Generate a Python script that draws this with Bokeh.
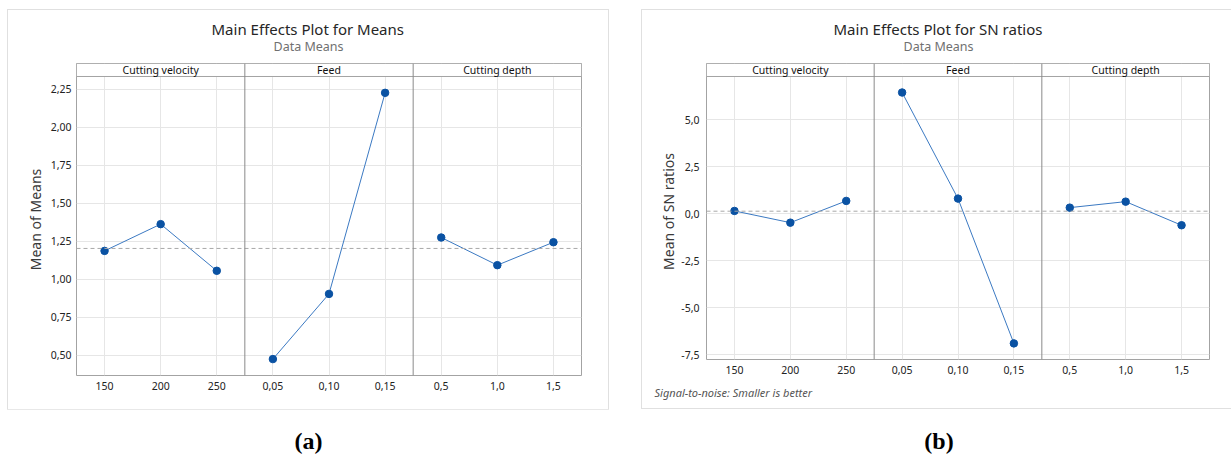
from bokeh.plotting import figure
from bokeh.models import (Range1d, FixedTicker, CustomJSTickFormatter, Span, Title,
                          ColumnDataSource, Spacer)
from bokeh.layouts import row, column
from bokeh.embed import file_html
from bokeh.resources import INLINE
from bokeh.core.properties import value

# ---------------- data ----------------
FACTORS = ["Cutting velocity", "Feed", "Cutting depth"]
VELOCITY_LEVELS = ["150", "200", "250"]
FEED_LEVELS = ["0,05", "0,10", "0,15"]
DEPTH_LEVELS = ["0,5", "1,0", "1,5"]

MEANS_VELOCITY = [1.188, 1.364, 1.057]
MEANS_FEED = [0.476, 0.905, 2.228]
MEANS_DEPTH = [1.276, 1.094, 1.245]
MEANS_GRAND = 1.204
MEANS_YTICKS = [0.50, 0.75, 1.00, 1.25, 1.50, 1.75, 2.00, 2.25]

SN_VELOCITY = [0.144, -0.479, 0.676]
SN_FEED = [6.436, 0.798, -6.894]
SN_DEPTH = [0.319, 0.638, -0.617]
SN_GRAND = 0.13
SN_YTICKS = [-7.5, -5.0, -2.5, 0.0, 2.5, 5.0]

FONT = "Noto Sans"
LINE_C = "#3b79c2"
MARK_C = "#0a52a3"
GRID_C = "#e6e6e6"
FRAME_C = "#a3a3a3"
DIV_C = "#8a8a8a"
BOX_STYLE = {"outline": "1px solid #e0e0e0", "outline-offset": "0px"}


def make_chart(title, ylabel, series, grand, yticks, ydigits, ymin, ymax_data, hdr_h,
               width, height, mb, title_off, sub_off, footnote=None, foot_offset=0,
               ystandoff=5, lstandoff=3):
    levels = [VELOCITY_LEVELS, FEED_LEVELS, DEPTH_LEVELS]
    ymax = ymax_data + hdr_h
    p = figure(width=width, height=height, output_backend="svg", toolbar_location=None,
               title=None, x_range=Range1d(0, 9), y_range=Range1d(ymin, ymax),
               min_border_left=mb[0], min_border_right=mb[1],
               min_border_top=mb[2], min_border_bottom=mb[3], styles=BOX_STYLE)
    p.background_fill_color = "white"
    p.border_fill_color = "white"
    p.outline_line_color = FRAME_C
    p.outline_line_width = 1

    xticks = [3 * k + i + 0.5 for k in range(3) for i in range(3)]
    xlabels = [lab for lv in levels for lab in lv]
    p.xaxis.ticker = FixedTicker(ticks=xticks)
    p.xaxis.formatter = CustomJSTickFormatter(args=dict(labels=xlabels),
                                              code="return labels[Math.round(tick - 0.5)];")
    p.yaxis.ticker = FixedTicker(ticks=yticks)
    p.yaxis.formatter = CustomJSTickFormatter(args=dict(d=ydigits),
                                              code="return tick.toFixed(d).replace('.', ',');")
    for ax in (p.xaxis[0], p.yaxis[0]):
        ax.axis_line_color = None
        ax.major_tick_line_color = None
        ax.minor_tick_line_color = None
        ax.major_tick_out = 0
        ax.major_tick_in = 0
        ax.major_label_text_font = FONT
        ax.major_label_text_font_size = "10.5px"
        ax.major_label_text_color = "#222222"
    p.xaxis.major_label_standoff = 6
    p.yaxis.major_label_standoff = ystandoff
    p.yaxis.axis_label = ylabel
    p.yaxis.axis_label_text_font = FONT
    p.yaxis.axis_label_text_font_size = "14px"
    p.yaxis.axis_label_text_font_style = "normal"
    p.yaxis.axis_label_text_color = "#3a3a3a"
    p.yaxis.axis_label_standoff = lstandoff

    p.grid.grid_line_color = GRID_C
    p.grid.grid_line_width = 1

    # header strip
    p.quad(left=[0], right=[9], bottom=[ymax_data], top=[ymax], fill_color="white",
           line_color=FRAME_C, line_width=1)
    p.text(x=[1.5, 4.5, 7.5], y=[ymax_data + hdr_h / 2] * 3, text=FACTORS,
           text_font=value(FONT), text_font_size="10.5px", text_color="#111111",
           text_align="center", text_baseline="middle")

    # grand mean line
    p.add_layout(Span(location=grand, dimension="width", line_color="#a8a8a8",
                      line_dash="4 3", line_width=1))
    # panel dividers
    for d in (3, 6):
        p.add_layout(Span(location=d, dimension="height", line_color=DIV_C, line_width=1))

    for k, vals in enumerate(series):
        xs = [3 * k + i + 0.5 for i in range(len(vals))]
        src = ColumnDataSource(dict(x=xs, y=vals))
        p.line("x", "y", source=src, line_color=LINE_C, line_width=1)
        p.scatter("x", "y", source=src, size=7.5, fill_color=MARK_C, line_color=MARK_C)

    # titles (first added = nearest the frame)
    p.add_layout(Title(text="Data Means", align="left", offset=sub_off,
                       text_font=FONT, text_font_size="12.5px", text_color="#707070",
                       text_font_style="normal", standoff=12.6, vertical_align="top"), "above")
    p.add_layout(Title(text=title, align="left", offset=title_off,
                       text_font=FONT, text_font_size="15px", text_color="#262626",
                       text_font_style="normal", standoff=-15.2, vertical_align="bottom"), "above")
    if footnote:
        p.add_layout(Title(text=footnote, align="left", offset=foot_offset,
                           text_font=FONT, text_font_size="11px", text_color="#555555",
                           text_font_style="italic", standoff=11.6, vertical_align="bottom"),
                     "below")
    return p


def make_label(text, width, height):
    q = figure(width=width, height=height, output_backend="svg", toolbar_location=None,
               title=None, x_axis_type=None, y_axis_type=None,
               min_border_left=0, min_border_right=0, min_border_top=height - 2,
               min_border_bottom=0)
    q.outline_line_color = None
    q.grid.visible = False
    q.add_layout(Title(text=text, align="center", text_font="Liberation Serif",
                       text_font_size="24px", text_font_style="bold", text_color="#000000",
                       standoff=0, vertical_align="bottom"), "above")
    return q


p1 = make_chart("Main Effects Plot for Means", "Mean of Means",
                [MEANS_VELOCITY, MEANS_FEED, MEANS_DEPTH], MEANS_GRAND, MEANS_YTICKS, 2,
                0.368, 2.3355, 0.0855, 600, 399, (68, 27, 53, 34), 135, 197,
                ystandoff=5, lstandoff=3)
p2 = make_chart("Main Effects Plot for SN ratios", "Mean of SN ratios",
                [SN_VELOCITY, SN_FEED, SN_DEPTH], SN_GRAND, SN_YTICKS, 1,
                -7.75, 7.287, 0.69, 589, 398, (64, 22, 53, 49), 127, 197,
                footnote="Signal-to-noise: Smaller is better", foot_offset=-52,
                ystandoff=7, lstandoff=0)

la = make_label("(a)", 616, 46)
lb = make_label("(b)", 585, 46)

top = row(Spacer(width=8, height=399), column(p1), Spacer(width=34, height=399), column(p2))
bottom = row(la, Spacer(width=30, height=46), lb)
layout = column(Spacer(width=1231, height=10), top, bottom)
open("out.html", "w").write(file_html(layout, INLINE))
